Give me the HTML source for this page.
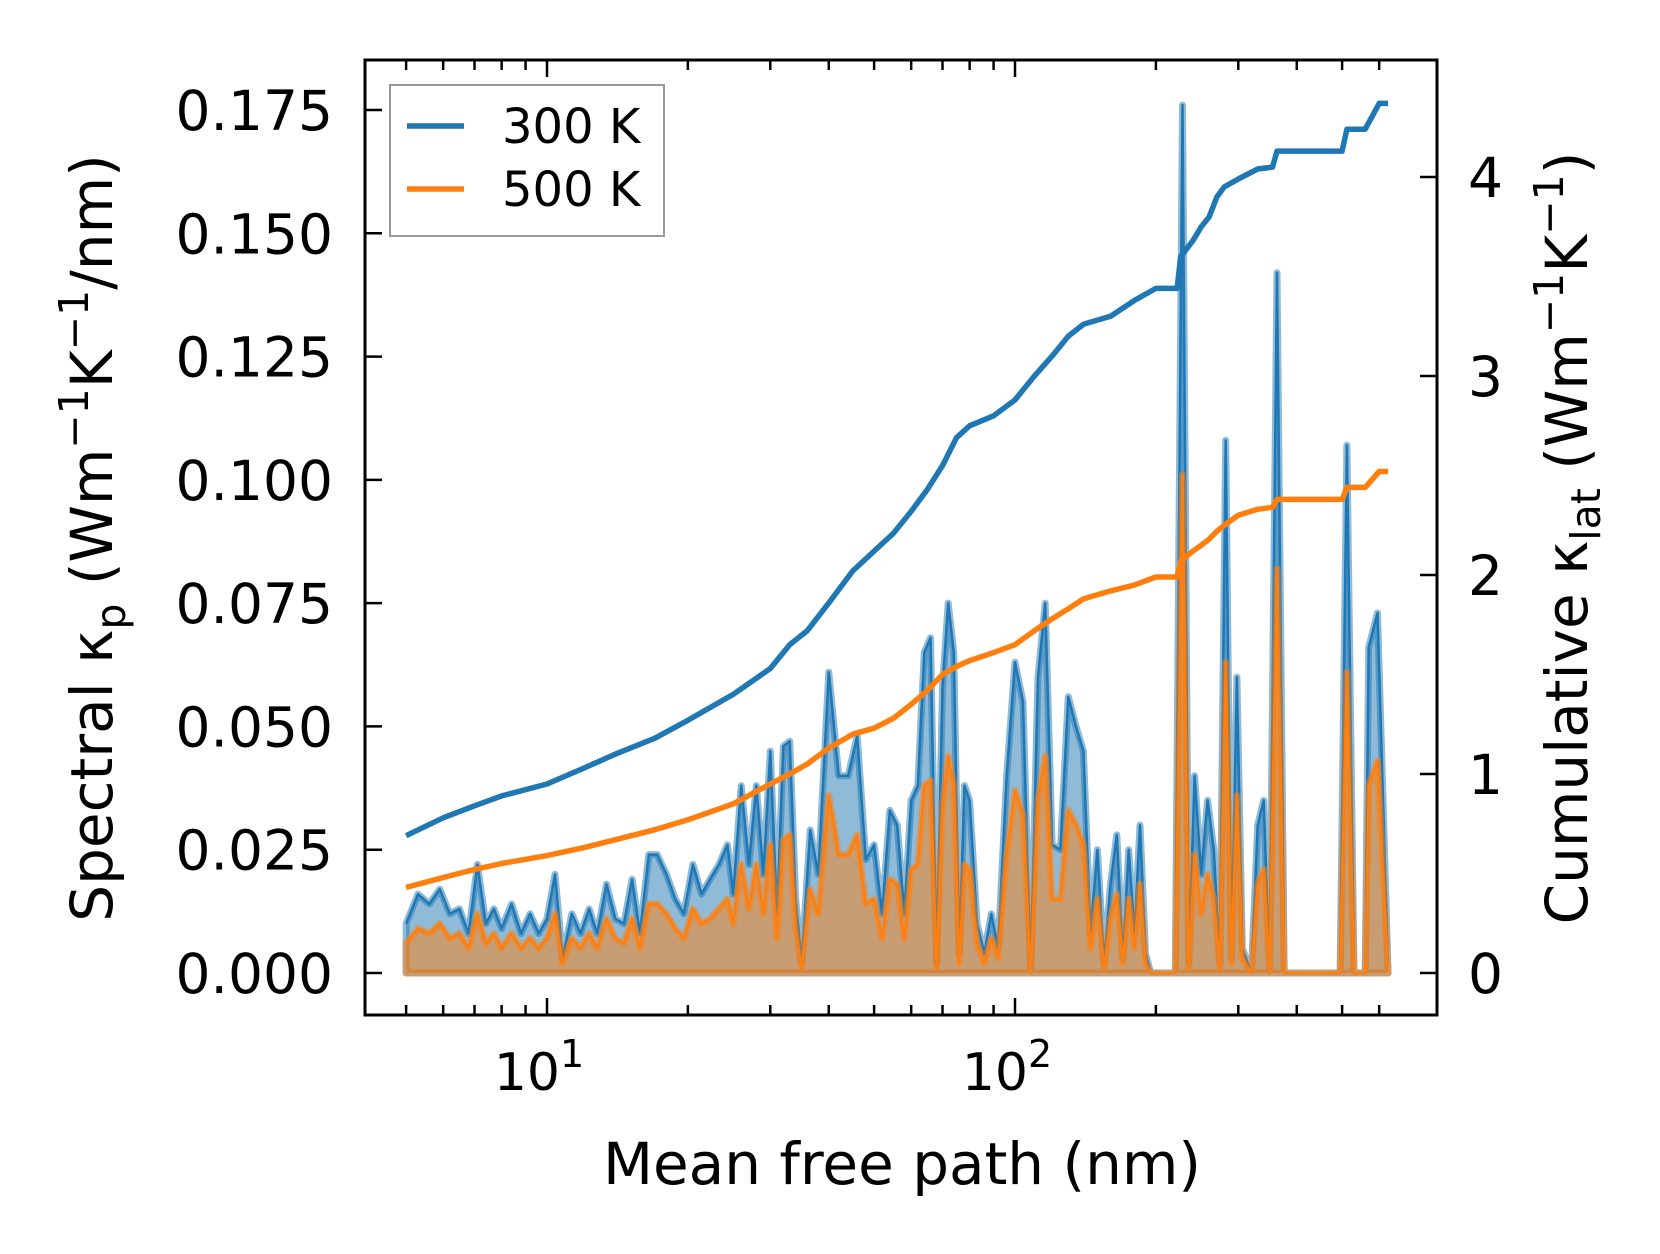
<!DOCTYPE html>
<html><head><meta charset="utf-8">
<style>
html,body{margin:0;padding:0;background:#fff;}
svg{display:block;font-family:"DejaVu Sans","Liberation Sans",sans-serif;}
</style></head>
<body>
<svg id="chart" width="1660" height="1254" viewBox="0 0 1660 1254" xmlns="http://www.w3.org/2000/svg">
<rect width="1660" height="1254" fill="#fff"/>
<g id="marks"></g>
<g id="axes"></g>
</svg>
<script>
const mfpX = [5.0,5.3,5.6,5.9,6.2,6.5,6.8,7.1,7.4,7.7,8.0,8.4,8.8,9.2,9.6,10.0,10.4,10.8,11.3,11.8,12.3,12.8,13.4,14.0,14.6,15.2,15.8,16.5,17.2,18.0,18.8,19.6,20.5,21.4,22.3,23.3,24.3,25.0,26.0,27.0,28.0,29.0,30.0,31.0,32.0,33.0,34.0,35.0,36.5,38.0,40.0,42.0,44.0,46.0,48.0,50.0,52.0,54.0,56.0,58.0,60.0,62.0,64.0,66.0,68.0,70.0,72.0,74.0,76.0,78.0,80.0,83.0,86.0,89.0,92.0,96.0,100,104,108,112,116,120,125,130,135,140,145,150,155,160,165,170,175,180,185,190,195,210,220,228,235,242,250,258,266,274,282,290,298,306,320,330,340,350,363,376,495,512,530,560,570,595,627];
const spec300 = [0.010,0.016,0.014,0.017,0.012,0.013,0.008,0.022,0.010,0.013,0.009,0.014,0.008,0.012,0.008,0.011,0.020,0.003,0.012,0.008,0.013,0.008,0.018,0.011,0.010,0.019,0.008,0.024,0.024,0.020,0.015,0.012,0.022,0.016,0.019,0.022,0.026,0.016,0.038,0.022,0.038,0.020,0.045,0.012,0.046,0.047,0.015,0.002,0.029,0.020,0.061,0.040,0.040,0.048,0.023,0.026,0.012,0.033,0.030,0.012,0.035,0.038,0.065,0.068,0.002,0.058,0.075,0.065,0.004,0.038,0.035,0.010,0.004,0.012,0.005,0.040,0.063,0.055,0.000,0.060,0.075,0.026,0.025,0.056,0.050,0.045,0.008,0.025,0.002,0.018,0.028,0.003,0.025,0.008,0.030,0.004,0.000,0.000,0.000,0.176,0.002,0.040,0.020,0.035,0.025,0.002,0.108,0.003,0.060,0.005,0.000,0.030,0.035,0.000,0.142,0.000,0.000,0.107,0.000,0.000,0.066,0.073,0.000];
const spec500 = [0.006,0.009,0.008,0.010,0.007,0.008,0.005,0.012,0.006,0.008,0.005,0.008,0.005,0.007,0.005,0.007,0.012,0.002,0.007,0.005,0.008,0.005,0.011,0.007,0.006,0.011,0.005,0.014,0.014,0.012,0.009,0.007,0.013,0.010,0.011,0.013,0.015,0.010,0.022,0.013,0.022,0.012,0.026,0.007,0.027,0.028,0.009,0.001,0.017,0.012,0.036,0.024,0.024,0.028,0.014,0.015,0.007,0.019,0.018,0.007,0.021,0.022,0.038,0.039,0.001,0.034,0.044,0.038,0.002,0.022,0.021,0.006,0.002,0.007,0.003,0.024,0.037,0.032,0.000,0.035,0.044,0.015,0.015,0.033,0.030,0.026,0.005,0.015,0.001,0.011,0.016,0.002,0.015,0.005,0.018,0.002,0.000,0.000,0.000,0.101,0.001,0.024,0.012,0.020,0.015,0.001,0.063,0.002,0.036,0.003,0.000,0.018,0.021,0.000,0.082,0.000,0.000,0.061,0.000,0.000,0.038,0.043,0.000];
const cumX = [5,6,7,8,10,12,14,17,20,25,30,33,36,40,45,50,55,60,65,70,75,80,90,100,110,120,130,140,160,180,200,222,226,240,250,260,270,280,300,330,355,363,500,512,560,600,627];
const cum300 = [0.69,0.78,0.84,0.89,0.95,1.03,1.10,1.18,1.27,1.40,1.53,1.65,1.72,1.86,2.02,2.12,2.21,2.32,2.43,2.55,2.69,2.75,2.80,2.88,3.00,3.10,3.20,3.26,3.30,3.38,3.44,3.44,3.60,3.68,3.75,3.80,3.90,3.95,3.99,4.04,4.05,4.13,4.13,4.24,4.24,4.37,4.37];
const cum500 = [0.43,0.48,0.52,0.55,0.59,0.63,0.67,0.72,0.77,0.85,0.95,1.00,1.05,1.13,1.20,1.23,1.28,1.35,1.42,1.50,1.54,1.57,1.61,1.65,1.72,1.78,1.83,1.88,1.92,1.95,1.99,1.99,2.07,2.12,2.15,2.18,2.22,2.25,2.30,2.33,2.34,2.38,2.38,2.44,2.44,2.52,2.52];
const yTicksL = [0,0.025,0.05,0.075,0.1,0.125,0.15,0.175];
const yTickLabelsL = ["0.000","0.025","0.050","0.075","0.100","0.125","0.150","0.175"];
const yTicksR = [0,1,2,3,4];

const NS="http://www.w3.org/2000/svg";
const L=365,R=1437,T=60,B=1015;
const X10=547,DEC=468;
function sx(v){return X10+(Math.log10(v)-1)*DEC;}
function syL(v){return 973-v/0.175*863;}
function syR(v){return 973-v*199;}
function mk(tag,attrs,parent){const e=document.createElementNS(NS,tag);for(const k in attrs)e.setAttribute(k,attrs[k]);parent.appendChild(e);return e;}
const marks=document.getElementById('marks'), axes=document.getElementById('axes');

function drawSpec(vals,color,name){
  let d="M"+sx(mfpX[0])+","+syL(0);
  let ld="";
  mfpX.forEach((x,i)=>{d+=" L"+sx(x).toFixed(1)+","+syL(vals[i]).toFixed(1);ld+=(i?" L":"M")+sx(x).toFixed(1)+","+syL(vals[i]).toFixed(1);});
  d+=" L"+sx(mfpX[mfpX.length-1])+","+syL(0)+" Z";
  const f=mk('path',{d:d,fill:color,'fill-opacity':0.5,stroke:color,'stroke-opacity':0.5,'stroke-width':7,'stroke-linejoin':'round'},marks);
  
  
  const l=mk('path',{d:ld,fill:'none',stroke:color,'stroke-width':2.5,'stroke-linejoin':'round'},marks);
  
  
}
drawSpec(spec300,'#1f77b4','spectral-300k');
drawSpec(spec500,'#ff7f0e','spectral-500k');
function drawCum(vals,color,name){
  let d="";cumX.forEach((x,i)=>{d+=(i?" L":"M")+sx(x).toFixed(1)+","+syR(vals[i]).toFixed(1);});
  const l=mk('path',{d:d,fill:'none',stroke:color,'stroke-width':5.5,'stroke-linejoin':'round'},marks);
  
  
}
drawCum(cum300,'#1f77b4','cumulative-300k');
drawCum(cum500,'#ff7f0e','cumulative-500k');

const fr=mk('rect',{x:L,y:T,width:R-L,height:B-T,fill:'none',stroke:'#000','stroke-width':3},axes);


const majors=[10,100];
for(let dec=1;dec<=100;dec*=10){for(let m=1;m<10;m++){const v=m*dec;if(v<4.2||v>690)continue;const x=sx(v);const len=(m===1)?17:10;
  const t1=mk('line',{x1:x,x2:x,y1:B,y2:B-len,stroke:'#000','stroke-width':2.5},axes);
  
  
  const t2=mk('line',{x1:x,x2:x,y1:T,y2:T+len,stroke:'#000','stroke-width':2.5},axes);
  
  
}}
majors.forEach((v,i)=>{const t=mk('text',{x:sx(v)-8,y:1090,'font-size':52,'text-anchor':'middle'},axes);
  
  
  t.textContent='10';const s=mk('tspan',{dy:-23,'font-size':38},t);s.textContent=String(i+1);});
yTicksL.forEach((v,i)=>{const y=syL(v);
  const t=mk('line',{x1:L,x2:L+17,y1:y,y2:y,stroke:'#000','stroke-width':2.5},axes);
  
  
  const lb=mk('text',{x:333,y:y+20,'font-size':55,'text-anchor':'end'},axes);
  
  
  lb.textContent=yTickLabelsL[i];});
yTicksR.forEach(v=>{const y=syR(v);
  const t=mk('line',{x1:R,x2:R-17,y1:y,y2:y,stroke:'#000','stroke-width':2.5},axes);
  
  
  const lb=mk('text',{x:1468,y:y+20,'font-size':55},axes);
  
  
  lb.textContent=String(v);});
</script>
<svg style="position:absolute;left:0;top:0" width="1660" height="1254" xmlns="http://www.w3.org/2000/svg">
<text x="902" y="1184" font-size="58" text-anchor="middle" font-family="DejaVu Sans, Liberation Sans, sans-serif">Mean free path (nm)</text>
<text transform="translate(112,538) rotate(-90)" font-size="58" text-anchor="middle" font-family="DejaVu Sans, Liberation Sans, sans-serif">Spectral κ<tspan dy="13" font-size="41">p</tspan><tspan dy="-13"> (Wm</tspan><tspan dy="-24" font-size="41">−1</tspan><tspan dy="24">K</tspan><tspan dy="-24" font-size="41">−1</tspan><tspan dy="24">/nm)</tspan></text>
<text transform="translate(1587,538) rotate(-90)" font-size="58" text-anchor="middle" font-family="DejaVu Sans, Liberation Sans, sans-serif">Cumulative κ<tspan dy="13" font-size="41">lat</tspan><tspan dy="-13"> (Wm</tspan><tspan dy="-24" font-size="41">−1</tspan><tspan dy="24">K</tspan><tspan dy="-24" font-size="41">−1</tspan><tspan dy="24">)</tspan></text>
<g>
<rect x="390" y="85" width="274" height="151" fill="#fff" fill-opacity="0.8" stroke="#999" stroke-width="2"/>
<line x1="407" x2="464" y1="126" y2="126" stroke="#1f77b4" stroke-width="5.5"/>
<text x="502" y="143" font-size="48" font-family="DejaVu Sans, Liberation Sans, sans-serif">300 K</text>
<line x1="407" x2="464" y1="189" y2="189" stroke="#ff7f0e" stroke-width="5.5"/>
<text x="502" y="206" font-size="48" font-family="DejaVu Sans, Liberation Sans, sans-serif">500 K</text>
</g>
</svg>
</body></html>
